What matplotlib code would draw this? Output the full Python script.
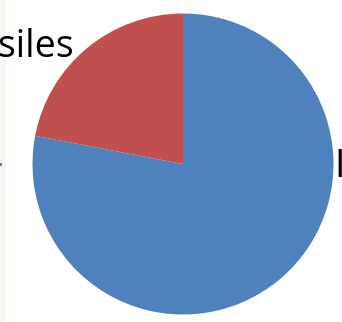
import matplotlib.pyplot as plt
from matplotlib.patches import Rectangle

# slice data
labels = ['ICBMs', 'Missiles']
shares = [78, 22]
colors = ['#4F81BD', '#C0504D']

W, H = 342, 322
fig = plt.figure(figsize=(W / 100, H / 100), dpi=100)
fig.patch.set_facecolor('white')

# light strip down the left edge
fig.patches.append(Rectangle((0, 0), 6 / W, 1, transform=fig.transFigure,
                             facecolor='#f6f7f0', edgecolor='none', zorder=0))
fig.patches.append(Rectangle((0, 1 - 166 / H), 1.5 / W, 3 / H, transform=fig.transFigure,
                             facecolor='#20a88c', edgecolor='none', zorder=1))

# pie centred at (183, 164) px, radius ~150 px
r = 150.5
cx, cy = 183, 164
ax = fig.add_axes([(cx - r) / W, (H - cy - r) / H, 2 * r / W, 2 * r / H])
ax.pie(shares, colors=colors, startangle=90, counterclock=False,
       radius=1, wedgeprops=dict(linewidth=0))
ax.set_xlim(-1, 1)
ax.set_ylim(-1, 1)
ax.axis('off')

font = 'Open Sans'
fig.text(74 / W, 1 - 57 / H, labels[1], ha='right', va='baseline',
         fontsize=27, family=font, color='black')
fig.text(334.5 / W, 1 - 177 / H, labels[0], ha='left', va='baseline',
         fontsize=27, family=font, color='black')

fig.savefig('out.png', dpi=100)
